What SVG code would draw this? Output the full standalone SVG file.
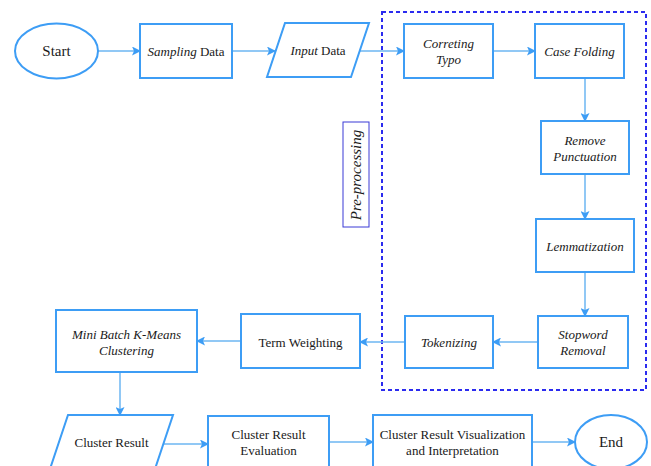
<svg xmlns="http://www.w3.org/2000/svg" width="651" height="466" viewBox="0 0 651 466">
<defs>
<marker id="arr" markerWidth="9" markerHeight="9" refX="8" refY="4.5" orient="auto" markerUnits="userSpaceOnUse">
<path d="M0,0 L9,4.5 L0,9 L2,4.5 Z" fill="#3d9df5"/>
</marker>
<style>
.n{fill:#fff;stroke:#3d9df5;stroke-width:2}
text{font-family:'Liberation Serif','Times New Roman','DejaVu Serif',serif;font-size:13px;fill:#1a1a1a;text-anchor:middle}
.i{font-style:italic}
.big{font-size:15px}
.c{fill:none;stroke:#6cb6f2;stroke-width:1.5;marker-end:url(#arr)}
</style>
</defs>
<rect width="651" height="466" fill="#fff"/>
<g id="preprocessing">
<rect x="382" y="12" width="264" height="378" fill="none" stroke="#2b2bef" stroke-width="2" stroke-dasharray="4,3"/>
<rect x="343" y="122" width="26" height="105" fill="#fff" stroke="#3a3ad6" stroke-width="1"/>
<text class="i big" font-family="Liberation Serif, serif" transform="translate(361,175) rotate(-90)">Pre-processing</text>
</g>
<g id="connectors">
<line class="c" x1="98" y1="51" x2="140" y2="51"/>
<line class="c" x1="232" y1="51" x2="275" y2="51"/>
<line class="c" x1="359" y1="51" x2="404" y2="51"/>
<line class="c" x1="493" y1="51" x2="535" y2="51"/>
<line class="c" x1="585" y1="78" x2="585" y2="121"/>
<line class="c" x1="585" y1="174" x2="585" y2="219"/>
<line class="c" x1="585" y1="272" x2="585" y2="316"/>
<line class="c" x1="538" y1="342" x2="493" y2="342"/>
<line class="c" x1="405" y1="342" x2="360" y2="342"/>
<line class="c" x1="241" y1="341" x2="197" y2="341"/>
<line class="c" x1="120" y1="372" x2="120" y2="415"/>
<line class="c" x1="163" y1="444" x2="208" y2="444"/>
<line class="c" x1="329" y1="442" x2="373" y2="442"/>
<line class="c" x1="532" y1="442" x2="575" y2="442"/>
</g>
<g id="start">
<ellipse class="n" cx="56.5" cy="51" rx="41.5" ry="27.5"/>
<text class="big" x="56.5" y="56">Start</text>
</g>
<g id="sampling">
<rect class="n" x="140" y="24" width="92" height="54"/>
<text x="186" y="55.5"><tspan class="i">Sampling</tspan> Data</text>
</g>
<g id="input">
<polygon class="n" points="285,23 369,23 351,77 267,77"/>
<text x="318" y="55"><tspan class="i">Input</tspan> Data</text>
</g>
<g id="correting">
<rect class="n" x="404" y="24" width="89" height="54"/>
<text class="i" x="448.5" y="47.5">Correting</text>
<text class="i" x="448.5" y="64">Typo</text>
</g>
<g id="casefolding">
<rect class="n" x="535" y="24" width="89" height="54"/>
<text class="i" x="579.5" y="56">Case Folding</text>
</g>
<g id="punctuation">
<rect class="n" x="541" y="121" width="88" height="53"/>
<text class="i" x="585" y="145">Remove</text>
<text class="i" x="585" y="161">Punctuation</text>
</g>
<g id="lemmatization">
<rect class="n" x="536" y="219" width="98" height="53"/>
<text class="i" x="585" y="251">Lemmatization</text>
</g>
<g id="stopword">
<rect class="n" x="538" y="316" width="90" height="52"/>
<text class="i" x="583" y="339">Stopword</text>
<text class="i" x="583" y="355">Removal</text>
</g>
<g id="tokenizing">
<rect class="n" x="405" y="316" width="88" height="52"/>
<text class="i" x="449" y="347">Tokenizing</text>
</g>
<g id="termweighting">
<rect class="n" x="241" y="314" width="119" height="54"/>
<text x="300.5" y="346.5">Term Weighting</text>
</g>
<g id="minibatch">
<rect class="n" x="56" y="310" width="141" height="62"/>
<text class="i" x="126.5" y="338.5">Mini Batch K-Means</text>
<text class="i" x="126.5" y="354.5">Clustering</text>
</g>
<g id="clusterresult">
<polygon class="n" points="68,415 173,415 155,469 50,469"/>
<text x="111.5" y="447">Cluster Result</text>
</g>
<g id="evaluation">
<rect class="n" x="208" y="416" width="121" height="60"/>
<text x="268.5" y="439">Cluster Result</text>
<text x="268.5" y="455">Evaluation</text>
</g>
<g id="visualization">
<rect class="n" x="373" y="415" width="159" height="60"/>
<text x="452.5" y="439">Cluster Result Visualization</text>
<text x="452.5" y="455">and Interpretation</text>
</g>
<g id="end">
<ellipse class="n" cx="611" cy="442" rx="36" ry="27"/>
<text class="big" x="611" y="447">End</text>
</g>
</svg>
